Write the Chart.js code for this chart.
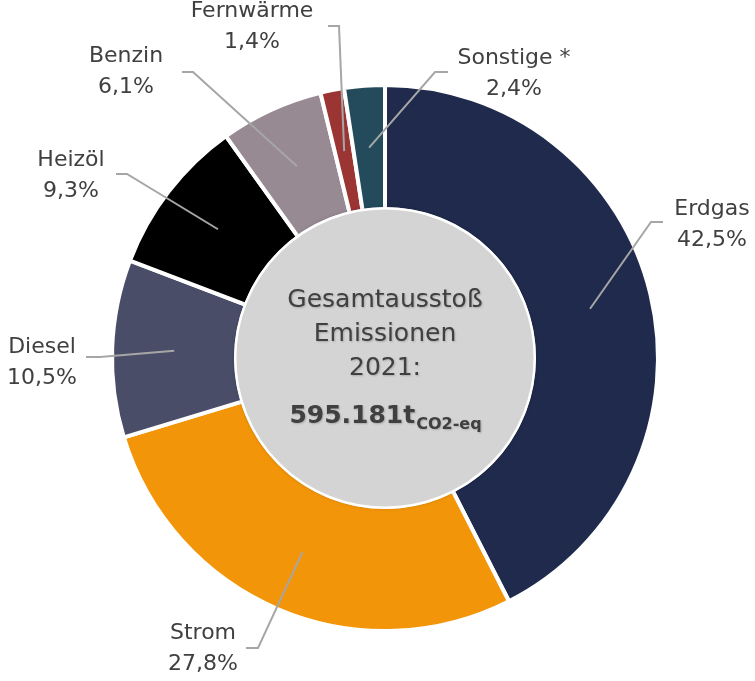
<!DOCTYPE html>
<html>
<head>
<meta charset="utf-8">
<script src="https://cdn.jsdelivr.net/npm/chart.js@4.4.1/dist/chart.umd.min.js"></script>
<style>
  html, body { margin: 0; padding: 0; background: #ffffff; }
  #wrap { width: 755px; height: 681px; position: relative; }
</style>
</head>
<body>
<div id="wrap"><canvas id="emissionChart" width="755" height="681"></canvas></div>
<script>
// Daten (Anteile in %)
const categories = ['Erdgas', 'Strom', 'Diesel', 'Heizöl', 'Benzin', 'Fernwärme', 'Sonstige *'];
const shares = [42.5, 27.8, 10.5, 9.3, 6.1, 1.4, 2.4];
const shareLabels = ['42,5%', '27,8%', '10,5%', '9,3%', '6,1%', '1,4%', '2,4%'];
const centerLines = ['Gesamtausstoß', 'Emissionen', '2021:'];
const totalValue = '595.181t';
const totalUnit = 'CO2-eq';

const sliceColors = ['#1f2a4c', '#f39508', '#4a4d68', '#000000', '#978a93', '#9b3534', '#234b5c'];

// Position der Beschriftungen (Knickpunkt, Ende der Linie, Textmitte)
const labelLayout = [
    { elbow: [651, 222], end: [663, 222], text: [712, 209] },
    { elbow: [258, 648], end: [246, 648], text: [203, 633] },
    { elbow: [100, 357], end: [86, 357], text: [42, 347] },
    { elbow: [127, 174], end: [116, 174], text: [71, 160] },
    { elbow: [193, 72], end: [182, 72], text: [126, 56] },
    { elbow: [339, 26], end: [328, 26], text: [252, 11] },
    { elbow: [435, 72], end: [448, 72], text: [514, 58] }
];

const FONT = '"DejaVu Sans", Verdana, sans-serif';

// Plugin für Mittelkreis und Beschriftungen
const labelPlugin = {
    id: 'labelPlugin',
    afterDatasetsDraw(chart) {
        const ctx = chart.ctx;
        const arcs = chart.getDatasetMeta(0).data;
        if (!arcs.length) return;
        const cx = arcs[0].x;
        const cy = arcs[0].y;
        const inner = arcs[0].innerRadius;

        // Mittelkreis
        ctx.save();
        ctx.shadowColor = 'rgba(0,0,0,0.25)';
        ctx.shadowBlur = 4;
        ctx.beginPath();
        ctx.arc(cx, cy, inner + 1, 0, Math.PI * 2);
        ctx.fillStyle = '#d4d4d4';
        ctx.fill();
        ctx.restore();
        ctx.save();
        ctx.beginPath();
        ctx.arc(cx, cy, inner + 1, 0, Math.PI * 2);
        ctx.strokeStyle = '#ffffff';
        ctx.lineWidth = 2.5;
        ctx.stroke();

        // Text in der Mitte
        ctx.fillStyle = '#404040';
        ctx.textAlign = 'center';
        ctx.textBaseline = 'middle';
        ctx.shadowColor = 'rgba(0,0,0,0.2)';
        ctx.shadowBlur = 2;
        ctx.shadowOffsetX = 1;
        ctx.shadowOffsetY = 1;
        ctx.font = '25px ' + FONT;
        centerLines.forEach((line, i) => {
            ctx.fillText(line, cx, cy - 58 + i * 34);
        });
        ctx.font = 'bold 25px ' + FONT;
        const wMain = ctx.measureText(totalValue).width;
        ctx.font = 'bold 16px ' + FONT;
        const wSub = ctx.measureText(totalUnit).width;
        const startX = cx - (wMain + wSub) / 2;
        ctx.textAlign = 'left';
        ctx.font = 'bold 25px ' + FONT;
        ctx.fillText(totalValue, startX, cy + 58);
        ctx.font = 'bold 16px ' + FONT;
        ctx.fillText(totalUnit, startX + wMain + 1, cy + 67);
        ctx.restore();

        // Führungslinien und Beschriftungen
        ctx.save();
        arcs.forEach((arc, i) => {
            const lay = labelLayout[i];
            const mid = (arc.startAngle + arc.endAngle) / 2;
            const r = (arc.innerRadius + arc.outerRadius) / 2;
            const sx = cx + Math.cos(mid) * r;
            const sy = cy + Math.sin(mid) * r;
            ctx.beginPath();
            ctx.moveTo(sx, sy);
            ctx.lineTo(lay.elbow[0], lay.elbow[1]);
            ctx.lineTo(lay.end[0], lay.end[1]);
            ctx.strokeStyle = '#a6a6a6';
            ctx.lineWidth = 2;
            ctx.stroke();

            ctx.fillStyle = '#404040';
            ctx.textAlign = 'center';
            ctx.textBaseline = 'middle';
            ctx.font = '22px ' + FONT;
            ctx.fillText(categories[i], lay.text[0], lay.text[1]);
            ctx.fillText(shareLabels[i], lay.text[0], lay.text[1] + 31);
        });
        ctx.restore();
    }
};

const ctx = document.getElementById('emissionChart').getContext('2d');
window.myChart = new Chart(ctx, {
    type: 'doughnut',
    data: {
        labels: categories,
        datasets: [{
            data: shares,
            backgroundColor: sliceColors,
            borderColor: '#ffffff',
            borderWidth: 4
        }]
    },
    options: {
        responsive: false,
        animation: false,
        cutout: '54.5%',
        layout: {
            padding: { left: 110, right: 95, top: 83, bottom: 48 }
        },
        plugins: {
            legend: { display: false },
            tooltip: { enabled: false }
        }
    },
    plugins: [labelPlugin]
});
</script>
</body>
</html>
